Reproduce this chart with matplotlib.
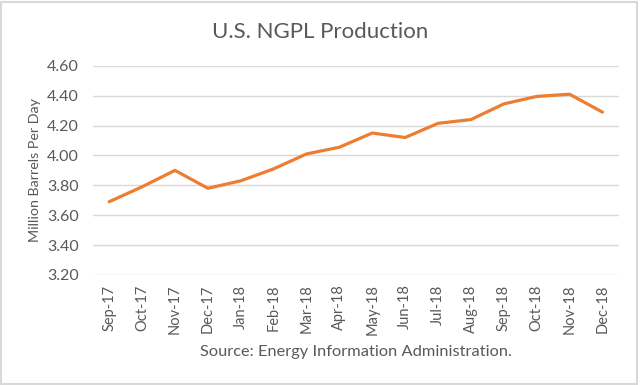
import matplotlib
matplotlib.use("Agg")
import matplotlib.pyplot as plt
from matplotlib.patches import Rectangle

months = ["Sep-17", "Oct-17", "Nov-17", "Dec-17", "Jan-18", "Feb-18", "Mar-18", "Apr-18",
          "May-18", "Jun-18", "Jul-18", "Aug-18", "Sep-18", "Oct-18", "Nov-18", "Dec-18"]
production = [3.69, 3.79, 3.90, 3.78, 3.83, 3.91, 4.01, 4.055,
              4.15, 4.12, 4.215, 4.24, 4.345, 4.395, 4.41, 4.29]
yticks = [3.20, 3.40, 3.60, 3.80, 4.00, 4.20, 4.40, 4.60]

plt.rcParams['font.family'] = ['Lato', 'DejaVu Sans']
text_color = "#595959"

fig = plt.figure(figsize=(6.4, 3.85), dpi=100)
ax = fig.add_axes([0.145, 0.286, 0.822, 0.543])

x = list(range(len(months)))
ax.plot(x, production, color="#ED7D31", lw=2.3, solid_capstyle="round", solid_joinstyle="round", zorder=3)

ax.set_ylim(3.20, 4.60)
ax.set_xlim(-0.5, len(months) - 0.5)
ax.set_yticks(yticks)
ax.set_yticklabels([f"{v:.2f}" for v in yticks], fontsize=11.5, color=text_color)
ax.set_xticks(x)
ax.set_xticklabels(months, rotation=90, fontsize=10.5, color=text_color)
ax.tick_params(axis="both", length=0)
ax.tick_params(axis="y", pad=10)
ax.tick_params(axis="x", pad=7)
ax.grid(axis="y", color="#d9d9d9", lw=1.0)
ax.set_axisbelow(True)
for s in ax.spines.values():
    s.set_visible(False)

ax.set_ylabel("Million Barrels Per Day", fontsize=10.3, color=text_color)
ax.yaxis.set_label_coords(-0.098, 0.5)

fig.text(0.5, 0.917, "U.S. NGPL Production", ha="center", va="center", fontsize=16, color=text_color)
fig.text(0.556, 0.085, "Source: Energy Information Administration.", ha="center", va="center",
         fontsize=11.8, color=text_color)

fig.patches.append(Rectangle((0.002, 0.003), 0.994, 0.993, transform=fig.transFigure,
                             fill=False, edgecolor="#d9d9d9", lw=1.5))

fig.savefig("out.png", dpi=100, facecolor="white")
